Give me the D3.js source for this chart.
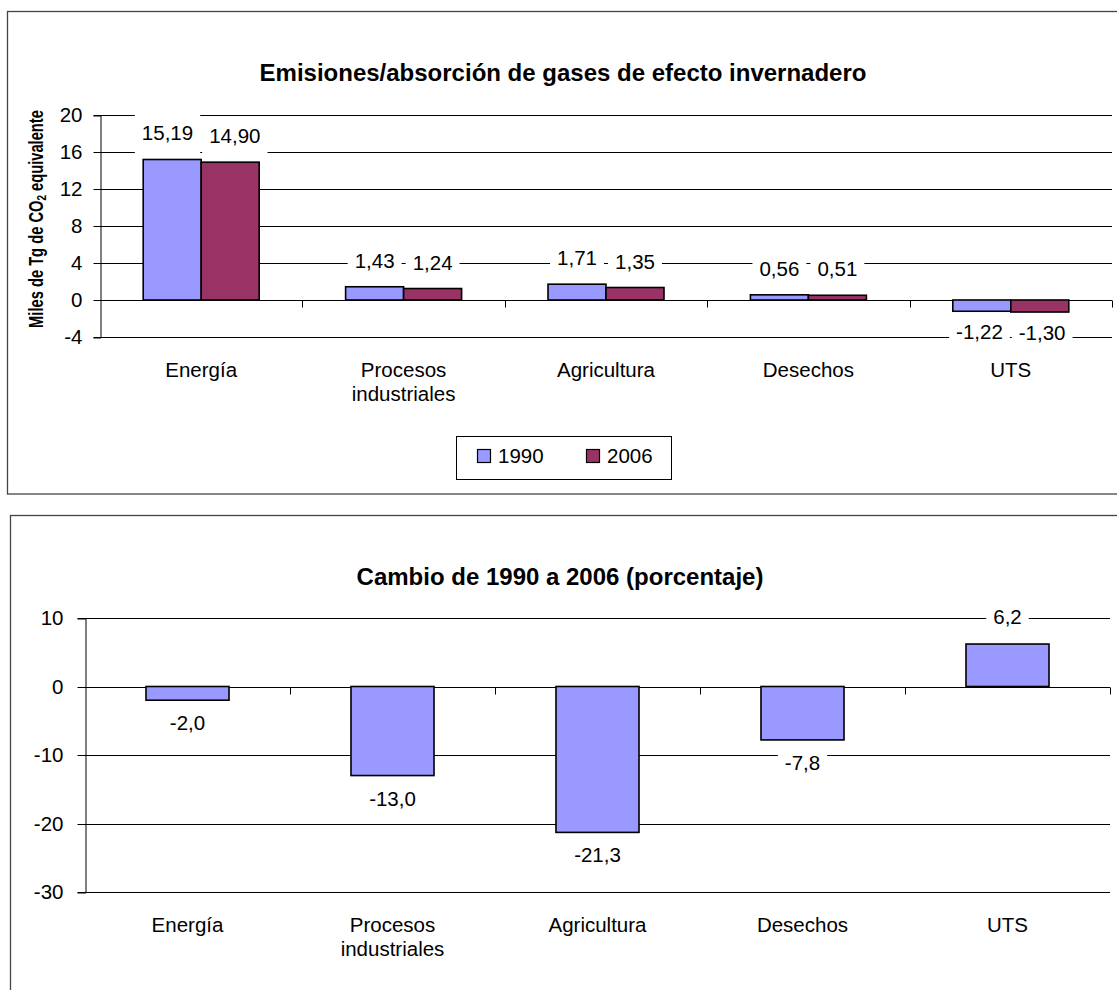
<!DOCTYPE html>
<html>
<head>
<meta charset="utf-8">
<script src="https://cdn.jsdelivr.net/npm/d3@7/dist/d3.min.js"></script>
<style>
  html, body { margin: 0; padding: 0; background: #fff; }
  svg { display: block; }
  text { font-family: "Liberation Sans", Arial, sans-serif; fill: #000; }
</style>
</head>
<body>
<svg id="chart" width="1117" height="990"></svg>
<script>
// ---------- data ----------
const categories = ["Energía", "Procesos industriales", "Agricultura", "Desechos", "UTS"];
const seriesNames = ["1990", "2006"];
const values1990 = [15.19, 1.43, 1.71, 0.56, -1.22];
const values2006 = [14.90, 1.24, 1.35, 0.51, -1.30];
const changePct = [-2.0, -13.0, -21.3, -7.8, 6.2];
const topTicks = [-4, 0, 4, 8, 12, 16, 20];
const bottomTicks = [-30, -20, -10, 0, 10];
const topTitle = "Emisiones/absorción de gases de efecto invernadero";
const bottomTitle = "Cambio de 1990 a 2006 (porcentaje)";
const seriesColors = ["#9999FF", "#993366"];

const locale = d3.formatLocale({decimal: ",", thousands: ".", grouping: [3], currency: ["", ""], minus: "-"});
const fmt2 = locale.format(".2f");
const fmt1 = locale.format(".1f");
const fmtTick = locale.format("d");

const FS = 20.5;
const svg = d3.select("#chart");

// ---------- frames ----------
svg.append("rect").attr("x", 7.5).attr("y", 11.5).attr("width", 1130).attr("height", 482.5)
  .attr("fill", "#fff").attr("stroke", "#444").attr("stroke-width", 1.3);
svg.append("rect").attr("x", 10.5).attr("y", 515.5).attr("width", 1130).attr("height", 500)
  .attr("fill", "#fff").attr("stroke", "#444").attr("stroke-width", 1.3);

// helper: value label with white background
function valueLabel(g, x, yCenter, txt) {
  const grp = g.append("g");
  const t = grp.append("text").attr("x", x).attr("y", yCenter + 7)
    .attr("text-anchor", "middle").style("font-size", FS + "px").text(txt);
  const w = t.node().getComputedTextLength();
  grp.insert("rect", "text").attr("x", x - w / 2 - 7).attr("y", yCenter - 20)
    .attr("width", w + 14).attr("height", 42).attr("fill", "#fff");
  return {grp, t, w, x};
}

function categoryLabels(g, xScale, yBase) {
  categories.forEach(c => {
    const lines = c.split(" ");
    const cx = xScale(c) + xScale.bandwidth() / 2;
    lines.forEach((ln, i) => {
      g.append("text").attr("x", cx).attr("y", yBase + i * 24)
        .attr("text-anchor", "middle").style("font-size", FS + "px").text(ln);
    });
  });
}

function boundaryTicks(g, xScale, y0) {
  const step = xScale.step();
  const r = xScale.range();
  for (let i = 1; i <= categories.length; i++) {
    const xx = Math.round(r[0] + i * step) + 0.5;
    g.append("line").attr("x1", xx).attr("x2", xx).attr("y1", y0).attr("y2", y0 + 7)
      .attr("stroke", "#000").attr("stroke-width", 1);
  }
}

// ================= TOP CHART =================
(function () {
  const left = 100, right = 1112, top = 115, bottom = 337;
  const g = svg.append("g");
  const x0 = d3.scaleBand().domain(categories).range([left, right]).padding(0);
  const x1 = d3.scaleBand().domain(seriesNames).range([0, x0.bandwidth()]).paddingInner(0).paddingOuter(0.745);
  const y = d3.scaleLinear().domain([-4, 20]).range([bottom, top]);

  g.selectAll("line.grid").data(topTicks).join("line")
    .attr("x1", left).attr("x2", right)
    .attr("y1", d => Math.round(y(d)) + 0.5).attr("y2", d => Math.round(y(d)) + 0.5)
    .attr("stroke", "#000").attr("stroke-width", 1);

  const ax = g.append("g").attr("transform", `translate(${left + 0.5},0.5)`)
    .call(d3.axisLeft(y).tickValues(topTicks).tickSize(7).tickPadding(11).tickFormat(fmtTick));
  ax.select(".domain").attr("stroke", "#000");
  ax.selectAll("text").style("font-size", FS + "px").style("font-family", '"Liberation Sans", Arial, sans-serif').attr("fill", "#000");
  ax.selectAll("line").attr("stroke", "#000");
  ax.selectAll(".tick").attr("transform", d => `translate(0,${Math.round(y(d))})`);

  boundaryTicks(g, x0, Math.round(y(0)) + 0.5);

  const data = [];
  categories.forEach((c, i) => {
    data.push({c, s: "1990", v: values1990[i], k: 0});
    data.push({c, s: "2006", v: values2006[i], k: 1});
  });
  g.selectAll("rect.bar").data(data).join("rect")
    .attr("x", d => x0(d.c) + x1(d.s))
    .attr("width", x1.bandwidth())
    .attr("y", d => y(Math.max(0, d.v)))
    .attr("height", d => Math.abs(y(d.v) - y(0)))
    .attr("fill", d => seriesColors[d.k])
    .attr("stroke", "#000").attr("stroke-width", 1.6);

  const lg = svg.append("g");
  categories.forEach((c, i) => {
    const labs = [0, 1].map(k => {
      const v = k === 0 ? values1990[i] : values2006[i];
      const bx = x0(c) + x1(seriesNames[k]) + x1.bandwidth() / 2;
      const yc = v >= 0 ? y(v) - 26 : y(v) + 21;
      return valueLabel(lg, bx, yc, fmt2(v));
    });
    const a = labs[0], b = labs[1];
    const overlap = (a.x + a.w / 2 + 7) - (b.x - b.w / 2 - 7) + 2;
    if (overlap > 0) {
      a.grp.attr("transform", `translate(${-overlap / 2},0)`);
      b.grp.attr("transform", `translate(${overlap / 2},0)`);
    }
  });

  categoryLabels(g, x0, bottom + 40);

  svg.append("text").attr("x", 563).attr("y", 81).attr("text-anchor", "middle")
    .style("font-size", "24px").style("font-weight", "bold").text(topTitle);

  const yt = svg.append("text").attr("transform", `translate(43,219) rotate(-90) scale(1,1.35)`)
    .attr("text-anchor", "middle").style("font-size", "14.7px").style("font-weight", "bold");
  yt.append("tspan").text("Miles de Tg de CO");
  yt.append("tspan").attr("baseline-shift", "-25%").style("font-size", "10px").text("2");
  yt.append("tspan").text(" equivalente");

  const leg = svg.append("g");
  leg.append("rect").attr("x", 456.5).attr("y", 436.5).attr("width", 215).attr("height", 43)
    .attr("fill", "#fff").attr("stroke", "#000").attr("stroke-width", 1);
  const legX = [477, 586];
  seriesNames.forEach((s, k) => {
    leg.append("rect").attr("x", legX[k] + 0.5).attr("y", 449.5).attr("width", 13).attr("height", 13)
      .attr("fill", seriesColors[k]).attr("stroke", "#000").attr("stroke-width", 1.2);
    leg.append("text").attr("x", legX[k] + 21).attr("y", 463).style("font-size", FS + "px").text(s);
  });
})();

// ================= BOTTOM CHART =================
(function () {
  const left = 85, right = 1110, top = 618, bottom = 892;
  const g = svg.append("g");
  const xc = d3.scaleBand().domain(categories).range([left, right]).padding(0);
  const xb = d3.scaleBand().domain(categories).range([left, right]).paddingInner(0.595).paddingOuter(0.2975);
  const y = d3.scaleLinear().domain([-30, 10]).range([bottom, top]);

  g.selectAll("line.grid").data(bottomTicks).join("line")
    .attr("x1", left).attr("x2", right)
    .attr("y1", d => Math.round(y(d)) + 0.5).attr("y2", d => Math.round(y(d)) + 0.5)
    .attr("stroke", "#000").attr("stroke-width", 1);

  const ax = g.append("g").attr("transform", `translate(${left + 0.5},0.5)`)
    .call(d3.axisLeft(y).tickValues(bottomTicks).tickSize(8).tickPadding(14).tickFormat(fmtTick));
  ax.select(".domain").attr("stroke", "#000");
  ax.selectAll("text").style("font-size", FS + "px").style("font-family", '"Liberation Sans", Arial, sans-serif').attr("fill", "#000");
  ax.selectAll("line").attr("stroke", "#000");
  ax.selectAll(".tick").attr("transform", d => `translate(0,${Math.round(y(d))})`);

  boundaryTicks(g, xc, Math.round(y(0)) + 0.5);

  g.selectAll("rect.bar").data(categories.map((c, i) => ({c, v: changePct[i]}))).join("rect")
    .attr("x", d => xb(d.c))
    .attr("width", xb.bandwidth())
    .attr("y", d => y(Math.max(0, d.v)))
    .attr("height", d => Math.abs(y(d.v) - y(0)))
    .attr("fill", seriesColors[0])
    .attr("stroke", "#000").attr("stroke-width", 1.6);

  const lg = svg.append("g");
  categories.forEach((c, i) => {
    const v = changePct[i];
    const bx = xb(c) + xb.bandwidth() / 2;
    const yc = v >= 0 ? y(v) - 27 : y(v) + 23;
    valueLabel(lg, bx, yc, fmt1(v));
  });

  categoryLabels(g, xc, bottom + 40);

  svg.append("text").attr("x", 560).attr("y", 585).attr("text-anchor", "middle")
    .style("font-size", "24px").style("font-weight", "bold").text(bottomTitle);
})();
</script>
</body>
</html>
